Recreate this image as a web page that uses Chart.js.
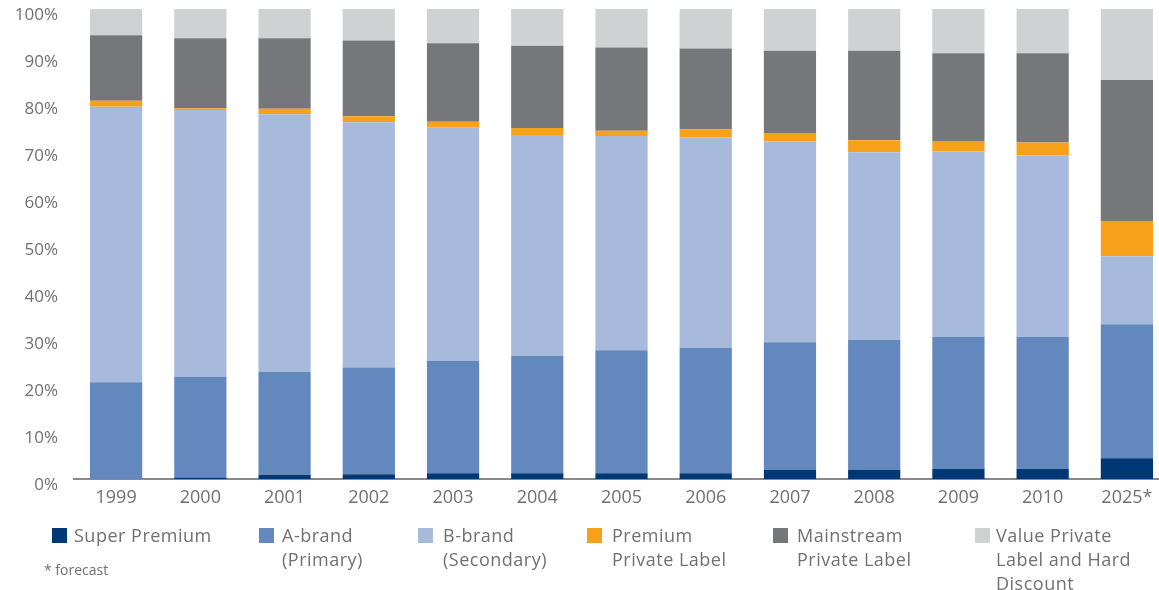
<!DOCTYPE html>
<html>
<head>
<meta charset="utf-8">
<script src="https://cdn.jsdelivr.net/npm/chart.js@4.4.1/dist/chart.umd.min.js"></script>
<style>
  html, body { margin: 0; padding: 0; background: #fff; overflow: hidden; width: 1159px; height: 590px; }
  #wrap { position: absolute; left: 0; top: 0; width: 1170px; height: 590px; }
  .leg { position: absolute; font-family: "Open Sans", sans-serif; font-size: 18px; letter-spacing: 0.5px; color: #707073; line-height: 24px; white-space: nowrap; }
  .sw { position: absolute; width: 15px; height: 15px; }
  .note { position: absolute; left: 44px; top: 560px; font-family: "Open Sans", sans-serif; font-size: 14px; color: #707073; }
</style>
</head>
<body>
<div id="wrap"><canvas id="c" width="1170" height="590"></canvas></div>
<div id="legend"></div>
<div class="note">* forecast</div>
<script>
// Market share by brand tier, percent of total
const years = ['1999', '2000', '2001', '2002', '2003', '2004', '2005', '2006', '2007', '2008', '2009', '2010', '2025*'];

const superPremium       = [0.0, 0.3, 0.9, 1.0, 1.2, 1.2, 1.2, 1.2, 1.9, 1.9, 2.2, 2.2, 4.4];
const aBrand             = [20.6, 21.4, 21.9, 22.7, 23.9, 25.0, 26.2, 26.7, 27.2, 27.7, 28.0, 28.0, 28.5];
const bBrand             = [58.6, 56.8, 54.8, 52.2, 49.7, 47.0, 45.6, 44.8, 42.7, 39.9, 39.5, 38.7, 14.5];
const premiumPL          = [1.3, 0.4, 1.2, 1.3, 1.2, 1.5, 1.1, 1.7, 1.8, 2.6, 2.2, 2.7, 7.5];
const mainstreamPL       = [13.9, 14.9, 15.0, 16.1, 16.7, 17.5, 17.7, 17.2, 17.5, 19.0, 18.7, 19.0, 30.0];
const valuePLHardDisc    = [5.6, 6.2, 6.2, 6.7, 7.3, 7.8, 8.2, 8.4, 8.9, 8.9, 9.4, 9.4, 15.1];

const yTicks = [0, 10, 20, 30, 40, 50, 60, 70, 80, 90, 100];

const seriesNames  = ['Super Premium', 'A-brand\n(Primary)', 'B-brand\n(Secondary)', 'Premium\nPrivate Label', 'Mainstream\nPrivate Label', 'Value Private\nLabel and Hard\nDiscount'];
const seriesValues = [superPremium, aBrand, bBrand, premiumPL, mainstreamPL, valuePLHardDisc];
const seriesColors = ['#003876', '#6388bd', '#a7badb', '#f7a11b', '#76777b', '#d0d1d3'];

// legend entry left edges (swatch x, text x)
const legendPos = [[52, 74], [259, 282], [418, 443], [587, 612], [773, 797], [975, 996]];

const textGray = '#707073';

const chart = new Chart(document.getElementById('c'), {
  type: 'bar',
  data: {
    labels: years,
    datasets: seriesValues.map((vals, i) => ({
      label: seriesNames[i].replace(/\n/g, ' '),
      data: vals,
      backgroundColor: seriesColors[i],
      borderWidth: 0,
      categoryPercentage: 1.0,
      barPercentage: 0.62
    }))
  },
  options: {
    responsive: false,
    animation: false,
    devicePixelRatio: 1,
    layout: { padding: { left: 0, right: 1, top: 9, bottom: 76 } },
    plugins: { legend: { display: false }, tooltip: { enabled: false } },
    scales: {
      x: {
        stacked: true,
        grid: { display: false, drawTicks: false },
        border: { display: true, color: '#8a8a8c', width: 2 },
        ticks: { color: textGray, font: { family: 'Open Sans', size: 18 }, padding: 8, maxRotation: 0, autoSkip: false },
        afterFit: (s) => { s.height = 35; s.paddingLeft = 0; s.paddingRight = 0; }
      },
      y: {
        stacked: true,
        min: 0,
        max: 100,
        grid: { display: false, drawTicks: false },
        border: { display: false },
        afterBuildTicks: (s) => { s.ticks = yTicks.map(v => ({ value: v })); },
        ticks: {
          color: textGray,
          font: { family: 'Open Sans', size: 17 },
          padding: 16,
          labelOffset: 6,
          callback: (v) => v + '%'
        },
        afterFit: (s) => { s.width = 74; s.paddingTop = 0; s.paddingBottom = 0; }
      }
    }
  }
});

// legend below the plot
const legend = document.getElementById('legend');
seriesNames.forEach((name, i) => {
  const sw = document.createElement('div');
  sw.className = 'sw';
  sw.style.left = legendPos[i][0] + 'px';
  sw.style.top = '528px';
  sw.style.background = seriesColors[i];
  legend.appendChild(sw);
  const t = document.createElement('div');
  t.className = 'leg';
  t.style.left = legendPos[i][1] + 'px';
  t.style.top = '523px';
  t.innerHTML = name.split('\n').join('<br>');
  legend.appendChild(t);
});
</script>
</body>
</html>
